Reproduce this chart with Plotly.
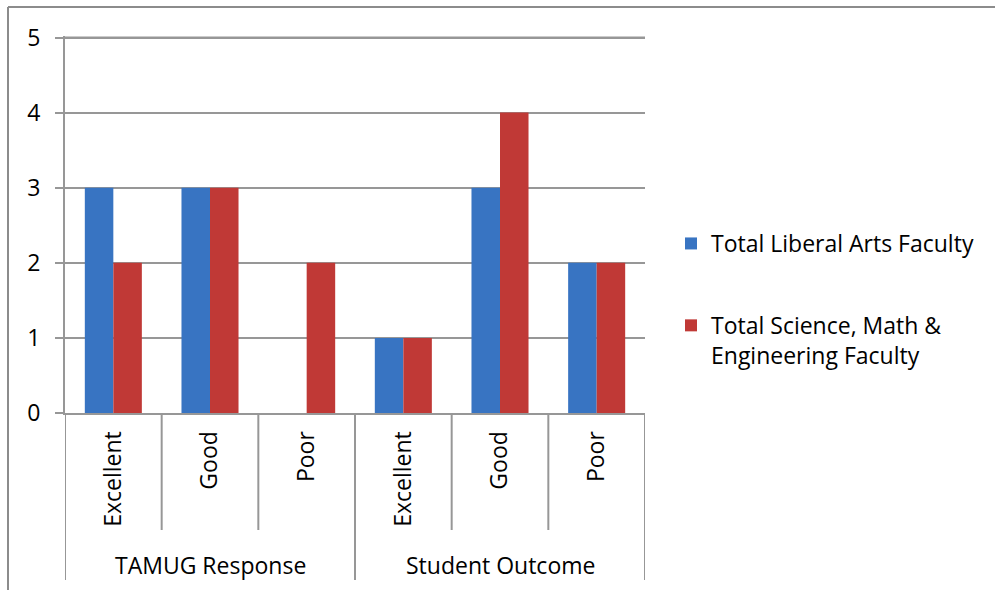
import plotly.graph_objects as go

categories = ["Excellent", "Good", "Poor", "Excellent", "Good", "Poor"]
groups = ["TAMUG Response", "Student Outcome"]
liberal_arts = [3, 3, 0, 1, 3, 2]
science_math = [2, 3, 2, 1, 4, 2]
series_names = ["Total Liberal Arts Faculty", "Total Science, Math &<br>Engineering Faculty"]
y_ticks = [0, 1, 2, 3, 4, 5]

FONT = "Open Sans"
FS = 23
GRID = "#979797"
xpos = list(range(len(categories)))

fig = go.Figure()
fig.add_trace(go.Bar(x=xpos, y=liberal_arts, name=series_names[0],
                     marker=dict(color="#3874C2", line=dict(width=0)), legendgroup="a"))
fig.add_trace(go.Bar(x=xpos, y=science_math, name=series_names[1],
                     marker=dict(color="#C03936", line=dict(width=0)), legendgroup="b"))

L, R, T, B = 65, 350, 36, 177
W, H = 995, 590
pw, ph = W - L - R, H - T - B
YMAX = 5.02

def px_x(x):
    return (x - L) / pw

def px_y(y):
    return (H - B - y) / ph

shapes = []
# top gridline (at max tick)
shapes.append(dict(type="line", xref="paper", yref="y", x0=0, x1=1,
                   y0=y_ticks[-1], y1=y_ticks[-1], line=dict(color=GRID, width=2), layer="below"))
# inner category dividers
for b in [0.5, 1.5, 3.5, 4.5]:
    shapes.append(dict(type="line", xref="x", yref="paper", x0=b, x1=b,
                       y0=0, y1=px_y(530), line=dict(color=GRID, width=2)))
# group dividers
for b in [-0.5, 2.5, 5.5]:
    shapes.append(dict(type="line", xref="x", yref="paper", x0=b, x1=b,
                       y0=0, y1=px_y(580), line=dict(color=GRID, width=2)))
# outer frame
shapes.append(dict(type="line", xref="paper", yref="paper", x0=px_x(8), x1=px_x(1000),
                   y0=px_y(7), y1=px_y(7), line=dict(color="#8c8c8c", width=2)))
shapes.append(dict(type="line", xref="paper", yref="paper", x0=px_x(8), x1=px_x(8),
                   y0=px_y(7), y1=px_y(595), line=dict(color="#8c8c8c", width=2)))

annotations = []
for gi, g in enumerate(groups):
    annotations.append(dict(text=g, x=gi * 3 + 1, xref="x", y=px_y(565), yref="paper",
                            showarrow=False, xanchor="center", yanchor="middle",
                            font=dict(family=FONT, size=FS, color="black")))

fig.update_layout(
    width=W, height=H,
    margin=dict(l=L, r=R, t=T, b=B, autoexpand=False),
    paper_bgcolor="white", plot_bgcolor="white",
    barmode="group", bargap=0.41, bargroupgap=0,
    font=dict(family=FONT, size=FS, color="black"),
    shapes=shapes, annotations=annotations,
    legend=dict(x=px_x(671), y=px_y(222), xanchor="left", yanchor="top",
                xref="paper", yref="paper", valign="top",
                font=dict(family=FONT, size=FS, color="black"),
                tracegroupgap=49, bgcolor="rgba(0,0,0,0)", itemwidth=30),
    showlegend=True,
)
fig.update_xaxes(range=[-0.5, 5.5], tickmode="array", tickvals=xpos, ticktext=categories,
                 tickangle=-90, ticks="", showgrid=False, zeroline=False,
                 showline=True, linecolor=GRID, linewidth=2, automargin=False,
                 tickfont=dict(family=FONT, size=FS, color="black"), ticklabelstandoff=7)
fig.update_yaxes(range=[0, YMAX], tickmode="array", tickvals=y_ticks,
                 showgrid=True, gridcolor=GRID, gridwidth=2,
                 zeroline=False, showline=True, linecolor=GRID, linewidth=2,
                 ticks="outside", ticklen=8, tickcolor=GRID, tickwidth=2,
                 automargin=False, ticklabelstandoff=10,
                 tickfont=dict(family=FONT, size=FS, color="black"))

fig.write_html("out.html")
